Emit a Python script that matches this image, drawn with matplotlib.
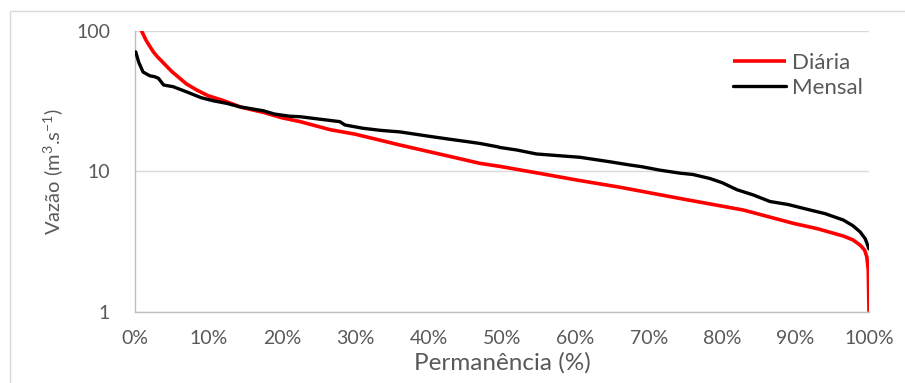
import matplotlib.pyplot as plt
from matplotlib.patches import Rectangle
from matplotlib.ticker import FixedLocator, NullLocator, FuncFormatter

plt.rcParams['font.family'] = ['Lato', 'DejaVu Sans']
plt.rcParams['mathtext.fontset'] = 'custom'
plt.rcParams['mathtext.rm'] = 'Lato'

# Curvas de permanência (% do tempo, vazão em m3/s)
diaria_pct = [0.3, 0.9, 1.5, 2, 2.5, 3, 3.9, 5, 6, 7, 8.4, 10, 12, 14.5, 17.5, 20, 22.5,
              26.6, 30, 36.1, 43.4, 47, 49.7, 55, 60.6, 66.1, 74.3, 82.9, 89.7, 93,
              96.5, 97.8, 98.8, 99.4, 99.7, 99.9, 100]
diaria_q = [140, 100, 86, 78, 71, 66, 59, 51.5, 46.5, 42, 38, 34.5, 32, 28.6, 26.3, 24.1, 22.6,
            19.8, 18.4, 15.4, 12.6, 11.4, 10.85, 9.7, 8.6, 7.7, 6.4, 5.3, 4.26, 3.9,
            3.46, 3.25, 2.98, 2.75, 2.46, 1.98, 1.0]

mensal_pct = [0.1, 0.5, 1.1, 2, 2.7, 3.2, 3.9, 5.2, 7, 9, 10.7, 12.5, 14.3, 17.5,
              19, 21.1, 22.5, 25, 27.9, 28.6, 31, 33.4, 36.1, 40, 43, 45.2, 47, 49.3,
              49.7, 52, 54.7, 58, 60.6, 64.7, 67.4, 69, 71.5, 74.3, 76, 78.3, 80, 82,
              84.2, 86.5, 89, 92, 94, 96.5, 97.8, 98.8, 99.5, 100]
mensal_q = [71, 60, 51, 48, 47.2, 46, 41.2, 40.1, 36.9, 33.5, 31.8, 30.5, 28.8, 27,
            25.6, 24.7, 24.5, 23.6, 22.6, 21.4, 20.3, 19.6, 19.1, 17.8, 16.9, 16.3, 15.8, 15.0,
            14.8, 14.2, 13.3, 12.9, 12.6, 11.7, 11.1, 10.8, 10.2, 9.7, 9.5, 8.9, 8.3, 7.4,
            6.8, 6.1, 5.8, 5.3, 5.0, 4.5, 4.1, 3.7, 3.3, 2.8]

x_ticks = list(range(0, 101, 10))
y_ticks = [1, 10, 100]

grey_txt = '#595959'
grid_c = '#d9d9d9'

fig = plt.figure(figsize=(9.05, 3.83), dpi=100)
fig.patches.append(Rectangle((10 / 905, -0.1), 1.2, (383 - 11) / 383 + 0.1,
                             transform=fig.transFigure, fill=False,
                             edgecolor=grid_c, linewidth=1.0))
ax = fig.add_axes([135 / 905, (383 - 311.7) / 383, 734 / 905, 280.7 / 383])

ax.plot(diaria_pct, diaria_q, color='#ff0000', linewidth=2.6, label='Diária',
        solid_capstyle='butt', zorder=3)
ax.plot(mensal_pct, mensal_q, color='black', linewidth=2.4, label='Mensal',
        solid_capstyle='round', zorder=4)

ax.set_yscale('log')
ax.set_ylim(1, 100)
ax.set_xlim(0, 100)
ax.yaxis.set_major_locator(FixedLocator(y_ticks))
ax.yaxis.set_minor_locator(NullLocator())
ax.yaxis.set_major_formatter(FuncFormatter(lambda v, p: f'{v:g}'))
ax.xaxis.set_major_locator(FixedLocator(x_ticks))
ax.xaxis.set_major_formatter(FuncFormatter(lambda v, p: f'{v:g}%'))

ax.grid(True, axis='y', color=grid_c, linewidth=1.0, zorder=0)
for s in ['top', 'right']:
    ax.spines[s].set_visible(False)
for s in ['left', 'bottom']:
    ax.spines[s].set_color('#bfbfbf')
    ax.spines[s].set_linewidth(1.0)
ax.tick_params(length=0, labelsize=14, labelcolor=grey_txt)
ax.tick_params(axis='x', pad=13)
ax.tick_params(axis='y', pad=18)

ax.set_xlabel('Permanência (%)', fontsize=17.5, color=grey_txt, labelpad=4)
ax.set_ylabel(r'Vazão (m$^3$.s$^{-1}$)', fontsize=14.5, color=grey_txt)
ax.yaxis.set_label_coords(-0.094, 0.5)

ax.legend(loc='upper left', bbox_to_anchor=(722 / 905, (383 - 42) / 383),
          bbox_transform=fig.transFigure, frameon=False, fontsize=16,
          borderpad=0, handlelength=2.4, handletextpad=0.25, labelspacing=0.2,
          labelcolor=grey_txt)

fig.savefig('out.png', dpi=100)
